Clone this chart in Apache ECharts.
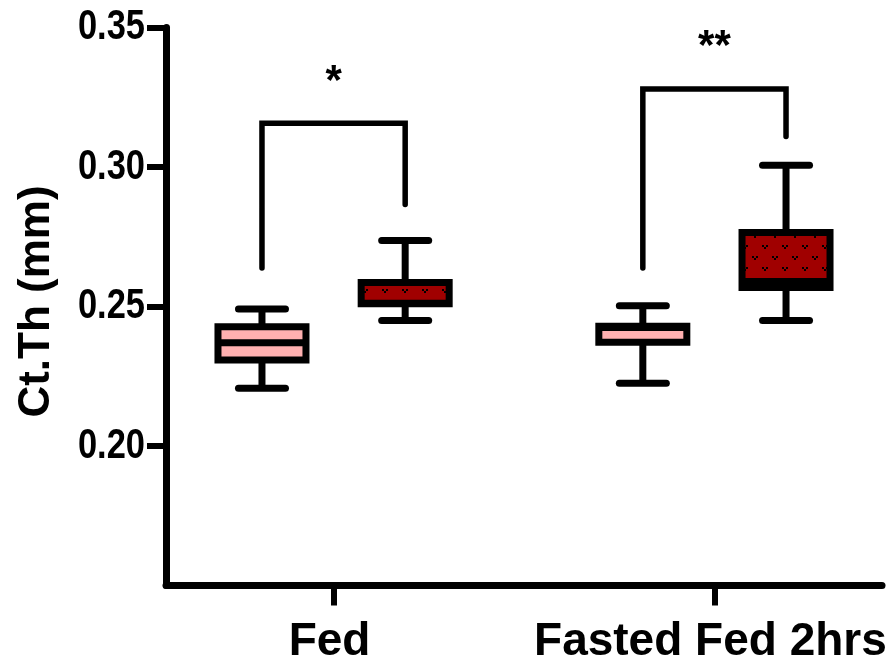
<!DOCTYPE html>
<html>
<head>
<meta charset="utf-8">
<title>Ct.Th</title>
<script src="https://cdn.jsdelivr.net/npm/echarts@6/dist/echarts.min.js"></script>
<style>
  html, body { margin: 0; padding: 0; background: #fff; }
  #chart { width: 895px; height: 666px; }
</style>
</head>
<body>
<div id="chart"></div>
<script>
// Groups on the x axis and their axis positions
const groups = ['Fed', 'Fasted Fed 2hrs'];
const groupPos = [1, 2];
const yTicks = [0.20, 0.25, 0.30, 0.35];

// Five-number summaries per group: [min, Q1, median, Q3, max]
const lightBoxes = [
  [0.2207, 0.2308, 0.2370, 0.2427, 0.2491],
  [0.2225, 0.2372, 0.2425, 0.2429, 0.2503]
];
const darkBoxes = [
  [0.2450, 0.2510, 0.2512, 0.2586, 0.2737],
  [0.2450, 0.2568, 0.2590, 0.2765, 0.3006]
];

// Significance brackets: left foot, top, right foot, label
const bracketLeft = [0.2638, 0.2638];
const bracketTop = [0.3157, 0.3280];
const bracketRight = [0.2866, 0.3109];
const bracketMarks = ['*', '**'];

const SHIFT = 0.188;           // box offset from the group centre (axis units)
const BOX_HALF = 44;           // px
const CAP_HALF = 23.5;         // px
const LW = 7;
const FONT = "'Liberation Sans', Arial, sans-serif";

function makePattern() {
  const c = document.createElement('canvas');
  c.width = 20; c.height = 22;
  const g = c.getContext('2d');
  g.fillStyle = '#a00000';
  g.fillRect(0, 0, 20, 22);
  g.fillStyle = '#000';
  const mark = (x, y) => {
    g.fillRect(x, y, 2, 2);
    g.fillRect(x + 4, y, 2, 2);
    g.fillRect(x + 2, y + 2, 2, 2);
  };
  mark(2, 3);
  mark(12, 14);
  return c;
}

function boxRenderer(fill) {
  return function (params, api) {
    const x = api.value(0);
    const pMin = api.coord([x, api.value(1)]);
    const pQ1 = api.coord([x, api.value(2)]);
    const pMed = api.coord([x, api.value(3)]);
    const pQ3 = api.coord([x, api.value(4)]);
    const pMax = api.coord([x, api.value(5)]);
    const cx = pMin[0];
    const line = (x1, y1, x2, y2, cap) => ({
      type: 'line',
      shape: { x1, y1, x2, y2 },
      style: { stroke: '#000', lineWidth: LW, lineCap: cap || 'butt' }
    });
    return {
      type: 'group',
      children: [
        line(cx, pMax[1], cx, pQ3[1]),
        line(cx, pQ1[1], cx, pMin[1]),
        {
          type: 'rect',
          shape: { x: cx - BOX_HALF, y: pQ3[1], width: BOX_HALF * 2, height: pQ1[1] - pQ3[1] },
          style: { fill: fill, stroke: '#000', lineWidth: LW }
        },
        line(cx - BOX_HALF, pMed[1], cx + BOX_HALF, pMed[1]),
        line(cx - CAP_HALF, pMax[1], cx + CAP_HALF, pMax[1], 'round'),
        line(cx - CAP_HALF, pMin[1], cx + CAP_HALF, pMin[1], 'round')
      ]
    };
  };
}

function bracketRenderer(params, api) {
  const x = api.value(0);
  const pl = api.coord([x - SHIFT, api.value(1)]);
  const pt = api.coord([x - SHIFT, api.value(2)]);
  const pr = api.coord([x + SHIFT, api.value(3)]);
  const ptr = api.coord([x + SHIFT, api.value(2)]);
  return {
    type: 'group',
    children: [
      {
        type: 'polyline',
        shape: { points: [pl, pt, ptr, pr] },
        style: { stroke: '#000', lineWidth: 5.5, fill: null, lineJoin: 'miter', lineCap: 'round' }
      },
      {
        type: 'text',
        x: (pt[0] + ptr[0]) / 2,
        y: pt[1] - 41,
        style: {
          text: bracketMarks[params.dataIndex],
          fontSize: 42, fontWeight: 'bold', fontFamily: FONT,
          fill: '#000', align: 'center', verticalAlign: 'middle'
        }
      }
    ]
  };
}

const lightData = lightBoxes.map((b, i) => [groupPos[i] - SHIFT].concat(b));
const darkData = darkBoxes.map((b, i) => [groupPos[i] + SHIFT].concat(b));
const bracketData = groupPos.map((g, i) => [g, bracketLeft[i], bracketTop[i], bracketRight[i]]);

const chart = echarts.init(document.getElementById('chart'), null, { renderer: 'canvas' });
chart.setOption({
  animation: false,
  backgroundColor: '#fff',
  grid: { left: 166, right: 13, top: 27.5, bottom: 80.5, outerBoundsMode: 'none' },
  xAxis: {
    type: 'value',
    min: 0.56, max: 2.44,
    splitLine: { show: false },
    axisLine: { show: true, onZero: false, lineStyle: { color: '#000', width: LW } },
    axisTick: { show: true, customValues: groupPos, length: 20, lineStyle: { color: '#000', width: 6 } },
    axisLabel: {
      customValues: groupPos,
      formatter: v => groups[Math.round(v) - 1],
      fontFamily: FONT, fontWeight: 'bold', fontSize: 46, color: '#000',
      margin: 34, padding: [0, 8, 0, 0]
    }
  },
  yAxis: {
    type: 'value',
    min: 0.15, max: 0.35, interval: 0.05,
    splitLine: { show: false },
    axisLine: { show: true, onZero: false, lineStyle: { color: '#000', width: LW } },
    axisTick: { show: true, customValues: yTicks, length: 19, lineStyle: { color: '#000', width: 6 } },
    axisLabel: { show: false },
    name: 'Ct.Th (mm)',
    nameLocation: 'middle',
    nameGap: 107,
    nameRotate: 90,
    nameTextStyle: { fontFamily: FONT, fontWeight: 'bold', fontSize: 44, color: '#000', padding: [0, 0, 0, 10] }
  },
  series: [
    {
      name: 'Control',
      type: 'custom',
      renderItem: boxRenderer('#ffb0b0'),
      encode: { x: 0, y: [1, 2, 3, 4, 5] },
      data: lightData,
      z: 3
    },
    {
      name: 'Treated',
      type: 'custom',
      renderItem: boxRenderer({ image: makePattern(), repeat: 'repeat' }),
      encode: { x: 0, y: [1, 2, 3, 4, 5] },
      data: darkData,
      z: 3
    },
    {
      name: 'Significance',
      type: 'custom',
      renderItem: bracketRenderer,
      encode: { x: 0, y: [1, 2, 3] },
      data: bracketData,
      z: 4
    }
  ]
});

// Condensed tick labels for the value axis, placed through the axis scale
const axisRight = chart.convertToPixel({ xAxisIndex: 0 }, 0.56) - 21;
chart.setOption({
  graphic: yTicks.map(v => ({
    type: 'text',
    x: axisRight,
    y: chart.convertToPixel({ yAxisIndex: 0 }, v),
    scaleX: 0.82,
    style: {
      text: v.toFixed(2),
      fontFamily: FONT, fontWeight: 'bold', fontSize: 42,
      fill: '#000', align: 'right', verticalAlign: 'middle'
    }
  }))
});
</script>
</body>
</html>
